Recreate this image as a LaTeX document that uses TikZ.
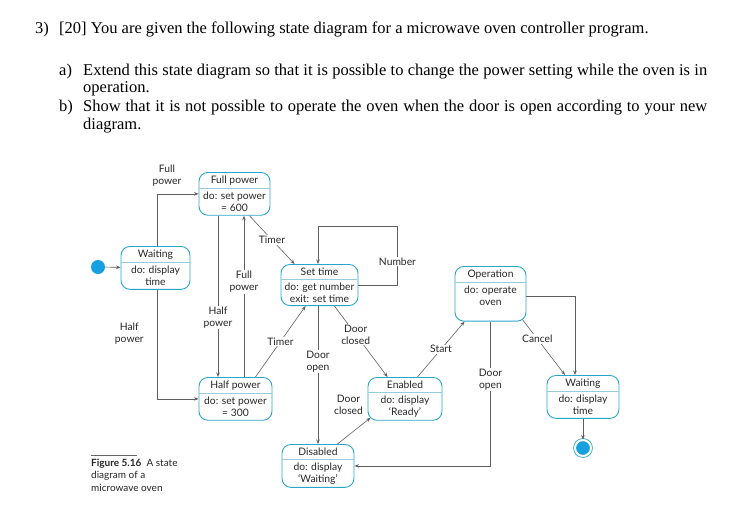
\documentclass[tikz,border=0pt]{standalone}
\usepackage{fontspec}
\setmainfont{Liberation Serif}
\newfontfamily\diagfont{Lato}
\usepackage{tikz}
\usetikzlibrary{arrows.meta, positioning, shapes.multipart}
\definecolor{stateblue}{RGB}{40,166,202}
\definecolor{splitblue}{RGB}{150,205,222}
\definecolor{dotblue}{RGB}{22,160,226}
\definecolor{wiregray}{RGB}{95,95,95}

\begin{document}
\begin{tikzpicture}[
  x=1pt, y=-1pt,
  qtext/.style = {anchor=base west, inner sep=0pt, font=\fontsize{16.5}{18}\selectfont},
  state/.style = {rectangle split, rectangle split parts=2, rectangle split draw splits=false,
    draw=stateblue, line width=0.9pt, rounded corners=9pt, align=center, anchor=north,
    inner xsep=2pt, inner ysep=3pt, text=black!85, font=\diagfont\fontsize{10.3}{12}\selectfont},
  splitline/.style = {draw=splitblue, line width=0.7pt},
  initdot/.style = {circle, fill=dotblue, minimum size=14pt, inner sep=0pt},
  finaldot/.style = {circle, fill=dotblue, draw=stateblue, double=white, double distance=2pt,
    line width=0.8pt, minimum size=16pt, inner sep=0pt},
  lbl/.style = {fill=white, inner sep=1pt, align=center, text=black!85,
    font=\diagfont\fontsize{10.3}{12}\selectfont},
  arrow/.style = {draw=wiregray, line width=0.6pt, -{Stealth[length=4.5pt,width=3.5pt]}}
]
\useasboundingbox (0,0) rectangle (750,531);

% question text
\node[qtext] (qnum) at (35,33) {3)};
\node[qtext] (qstem) at (59,33) {[20] You are given the following state diagram for a microwave oven controller program.};
\node[qtext] (alabel) at (59,75) {a)};
\node[qtext] (aline) at (83,75) {\makebox[624pt][s]{Extend this state diagram so that it is possible to change the power setting while the oven is in}};
\node[qtext] (aline2) at (83,92.5) {operation.};
\node[qtext] (blabel) at (59,111.5) {b)};
\node[qtext] (bline) at (83,111.5) {\makebox[624pt][s]{Show that it is not possible to operate the oven when the door is open according to your new}};
\node[qtext] (bline2) at (83,129.5) {diagram.};

% states
\node[state, minimum width=71pt] (fullp) at (234.5,172) {Full power \nodepart{two} do: set power\\= 600};
\node[state, minimum width=69pt] (waitL) at (155.5,246) {Waiting \nodepart{two} do: display\\time};
\node[state, minimum width=77pt] (settime) at (319.5,264) {Set time \nodepart{two} do: get number\\exit: set time};
\node[state, minimum width=71pt] (oper) at (490.5,266) {Operation \nodepart{two} do: operate\\oven\\[0pt]\mbox{}};
\node[state, minimum width=73pt] (halfp) at (235.5,377) {Half power \nodepart{two} do: set power\\= 300};
\node[state, minimum width=74pt] (enab) at (405,377) {Enabled \nodepart{two} do: display\\‘Ready’};
\node[state, minimum width=72pt] (disab) at (318,444) {Disabled \nodepart{two} do: display\\‘Waiting’};
\node[state, minimum width=72pt] (waitR) at (583,375) {Waiting \nodepart{two} do: display\\time};
\node[initdot] (init) at (98,267) {};
\node[finaldot] (final) at (583,448) {};

\foreach \s in {fullp, waitL, settime, oper, halfp, enab, disab, waitR}
  \draw[splitline] (\s.text split west) -- (\s.text split east);

% transitions
\draw[arrow] (init) -- (waitL);
\draw[arrow] ([xshift=1.5pt]waitL.north) |- node[lbl, pos=0.5, anchor=south, xshift=10pt, yshift=6pt] {Full\\power} (fullp);
\draw[arrow] ([xshift=1.5pt]waitL.south) |- node[lbl, pos=0.2, left=12pt] {Half\\power} (halfp);
\draw[arrow] ([xshift=-16.5pt]fullp.south) -- node[lbl, pos=0.63] {Half\\power} ([xshift=-17.5pt]halfp.north);
\draw[arrow] ([xshift=8.5pt]halfp.north) -- node[lbl, pos=0.59] {Full\\power} ([xshift=9.5pt]fullp.south);
\draw[arrow] ([xshift=-21pt]fullp.south east) -- node[lbl] {Timer} ([xshift=14pt]settime.north west);
\draw[arrow] ([xshift=-17pt]halfp.north east) -- node[lbl] {Timer} ([xshift=25pt]settime.south west);
\draw[arrow] (settime.east) -| node[lbl, pos=0.7] {Number} ++(39,-59) -| ([xshift=-1.5pt]settime.north);
\draw[arrow] ([xshift=-1.5pt]settime.south) -- node[lbl, pos=0.4] {Door\\open} (disab);
\draw[arrow] ([xshift=-24pt]settime.south east) -- node[lbl, pos=0.4] {Door\\closed} ([xshift=20pt]enab.north west);
\draw[arrow] ([xshift=-17pt]disab.north east) -- node[lbl, pos=0.9, anchor=south east, xshift=-3pt, yshift=4pt] {Door\\closed} ([xshift=3pt,yshift=3pt]enab.south west);
\draw[arrow] ([xshift=-25pt]enab.north east) -- node[lbl] {Start} ([xshift=10pt]oper.south west);
\draw[arrow] (oper.south) |- node[lbl, pos=0.2] {Door\\open} (disab);
\draw[arrow] ([yshift=-2.5pt]oper.east) -| ([xshift=-8pt]waitR.north);
\draw[arrow] ([xshift=-4pt,yshift=2pt]oper.south east) -- node[lbl, pos=0.35] {Cancel} ([xshift=-18pt]waitR.north);
\draw[arrow] (waitR.south) -- (final);

% caption
\node[anchor=north west, inner sep=0pt, align=left, text=black!85, font=\diagfont\fontsize{10}{12.3}\selectfont] (cap) at (91,459) {\textbf{Figure 5.16}\ \ A state\\diagram of a\\microwave oven};
\draw[draw=black!60, line width=0.5pt] ([yshift=4pt]cap.north west) -- ++(46,0);
\end{tikzpicture}
\end{document}
